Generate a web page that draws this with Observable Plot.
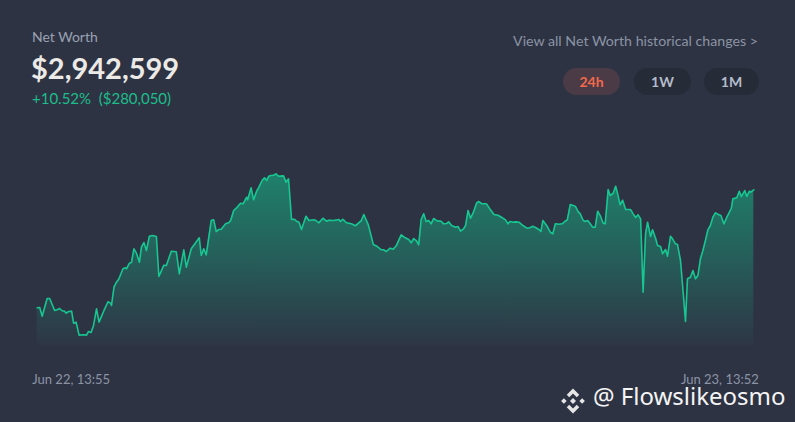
<!DOCTYPE html>
<html><head><meta charset="utf-8">
<script src="https://cdn.jsdelivr.net/npm/d3@7"></script>
<script src="https://cdn.jsdelivr.net/npm/@observablehq/plot@0.6"></script>
<style>
html,body{margin:0;padding:0;background:#2e3344;}
#wrap{position:relative;width:795px;height:422px;overflow:hidden;font-family:Lato,"Noto Sans",sans-serif;background:#2e3344;}
#chart{position:absolute;left:0;top:0;}
.abs{position:absolute;line-height:1;white-space:nowrap;}
.pill{position:absolute;top:68px;height:27px;border-radius:14px;display:flex;align-items:center;justify-content:center;font-size:14px;font-weight:700;}
</style></head>
<body>
<div id="wrap">
  <div id="chart"></div>
  <div class="abs" id="label" style="left:32px;top:30px;font-size:14px;color:#9aa2b2;"></div>
  <div class="abs" id="total" style="left:31px;top:53px;font-size:29px;font-weight:700;color:#eceae6;"></div>
  <div class="abs" id="change" style="left:32px;top:91px;font-size:15px;color:#1dbd8a;"></div>
  <div class="abs" id="link" style="right:37px;top:34px;font-size:14.2px;color:#8b93a3;"></div>
  <div id="pills"></div>
  <div class="abs" style="left:558px;top:386px;">
    <svg width="30" height="30" viewBox="0 0 24 24">
      <g fill="#e6e6e6">
        <path d="M12 2 L17 7 L15 9 L12 6 L9 9 L7 7 Z"/>
        <path d="M12 22 L7 17 L9 15 L12 18 L15 15 L17 17 Z"/>
        <path d="M2.5 12 L4.7 9.8 L6.9 12 L4.7 14.2 Z"/>
        <path d="M21.5 12 L19.3 9.8 L17.1 12 L19.3 14.2 Z"/>
        <path d="M12 9.6 L14.4 12 L12 14.4 L9.6 12 Z"/>
      </g>
    </svg>
  </div>
  <div class="abs" id="wm" style="left:593px;top:384px;font-size:24px;color:#f4f4f4;font-family:'Noto Sans',sans-serif;"></div>
</div>
<script>
// Net worth history (thousands of USD), minutes after Jun 22, 13:55
const minutesAfterStart = [
  0,5,10,20,25,35,40,45,50,55,
  58,63,69,73,78,84,93,99,103,108,
  113,119,124,134,142,147,149,154,159,164,
  172,177,179,185,189,194,199,205,209,214,
  219,225,231,239,244,254,259,269,279,285,
  294,299,309,325,329,334,339,349,354,359,
  364,369,378,384,388,394,400,408,413,420,
  422,429,434,440,444,451,456,460,464,468,
  474,479,484,494,499,504,510,516,520,525,
  530,539,545,555,559,565,573,580,585,595,
  605,608,613,620,630,638,650,655,664,674,
  682,690,695,700,708,714,720,730,738,745,
  750,755,760,765,770,775,780,785,790,795,
  802,810,815,821,825,831,839,844,849,855,
  859,864,869,874,881,885,892,901,909,916,
  924,931,939,944,948,954,959,966,974,982,
  988,994,999,1006,1010,1014,1023,1029,1034,1039,
  1046,1053,1058,1063,1069,1076,1079,1085,1089,1095,
  1099,1104,1109,1114,1119,1124,1129,1135,1139,1145,
  1149,1155,1160,1164,1169,1174,1180,1190,1195,1200,
  1205,1210,1215,1220,1224,1230,1234,1240,1244,1250,
  1254,1260,1264,1270,1274,1280,1284,1290,1295,1300,
  1304,1310,1315,1320,1325,1330,1335,1340,1345,1350,
  1355,1360,1367,1371,1377,1383,1388,1392,1395,1403,
  1408,1412,1419,1423,1428,1431,1437
];
const netWorthK = [
  2662.549,2663.3,2642.6,2684.6,2684.6,2656.2,2657.8,2660.9,2655.5,2654.5,
  2649.8,2653.8,2654.5,2626.0,2628.4,2597.6,2598.5,2597.6,2606.3,2604.0,
  2620.6,2660.2,2628.4,2656.2,2676.8,2673.5,2668.0,2711.5,2723.3,2731.4,
  2755.1,2757.5,2755.1,2768.4,2770.1,2802.6,2792.1,2770.8,2806.4,2817.5,
  2798.5,2832.5,2834.1,2831.8,2736.8,2763.7,2763.0,2796.9,2795.5,2743.3,
  2800.2,2758.9,2802.6,2828.7,2786.7,2802.6,2788.3,2869.7,2871.4,2843.6,
  2848.4,2849.1,2861.9,2864.3,2869.7,2893.5,2899.9,2910.8,2909.4,2925.0,
  2918.9,2947.3,2918.9,2939.3,2947.3,2964.7,2971.1,2964.7,2974.2,2976.5,
  2977.2,2980.6,2974.9,2975.8,2960.6,2968.7,2872.1,2872.8,2868.1,2865.7,
  2848.4,2879.9,2869.7,2871.4,2869.7,2864.3,2875.2,2868.1,2870.5,2869.7,
  2872.1,2867.4,2872.8,2864.3,2861.9,2857.2,2869.7,2884.0,2859.5,2812.8,
  2808.0,2800.2,2800.2,2796.2,2804.0,2801.6,2809.7,2835.8,2828.7,2824.7,
  2816.8,2827.0,2822.3,2812.1,2872.1,2885.6,2867.4,2869.7,2861.9,2874.5,
  2869.0,2868.1,2861.9,2862.6,2866.7,2857.9,2853.8,2855.5,2844.4,2850.0,
  2857.9,2893.5,2875.2,2887.1,2910.8,2914.8,2909.4,2909.4,2895.1,2884.0,
  2882.3,2877.6,2871.4,2861.9,2867.4,2865.7,2866.6,2865.7,2857.9,2851.5,
  2852.4,2856.2,2853.1,2848.4,2843.6,2869.7,2855.5,2842.0,2838.2,2861.9,
  2861.0,2861.9,2867.4,2871.4,2907.7,2904.6,2903.7,2890.4,2885.6,2869.7,
  2867.4,2869.7,2861.9,2853.8,2853.8,2891.8,2881.6,2863.3,2861.9,2943.3,
  2929.1,2934.5,2951.1,2933.1,2907.0,2917.9,2895.8,2895.8,2885.6,2876.9,
  2883.3,2873.8,2699.6,2838.2,2865.7,2831.8,2847.7,2827.7,2810.4,2808.0,
  2790.7,2800.9,2785.0,2832.5,2826.3,2814.4,2812.8,2774.8,2703.6,2630.1,
  2731.4,2735.2,2751.1,2731.4,2739.2,2778.8,2798.5,2822.3,2847.7,2857.9,
  2877.6,2888.0,2883.3,2881.6,2861.9,2877.6,2889.4,2898.9,2921.2,2923.6,
  2939.3,2926.7,2940.9,2926.7,2939.3,2936.9,2942.599
];
const startTime = Date.UTC(2023, 5, 22, 13, 55);
const headerLabel = "Net Worth";
const totalText = "$2,942,599";
const changeText = "+10.52%\u00a0 ($280,050)";
const linkText = "View all Net Worth historical changes >";
const rangeButtons = ["24h", "1W", "1M"];
const activeButton = "24h";
const watermark = "@ Flowslikeosmo";

document.getElementById("label").textContent = headerLabel;
document.getElementById("total").textContent = totalText;
document.getElementById("change").textContent = changeText;
document.getElementById("link").textContent = linkText;
document.getElementById("wm").textContent = watermark;
const pillLeft = [563, 634, 704], pillW = [57, 57, 55];
const pills = document.getElementById("pills");
rangeButtons.forEach((b, i) => {
  const el = document.createElement("div");
  el.className = "pill";
  el.textContent = b;
  el.style.left = pillLeft[i] + "px";
  el.style.width = pillW[i] + "px";
  el.style.background = b === activeButton ? "#4a3b46" : "#262b38";
  el.style.color = b === activeButton ? "#f2694c" : "#b4bccb";
  pills.appendChild(el);
});

const data = minutesAfterStart.map((m, i) => ({t: new Date(startTime + m * 60000), v: netWorthK[i] * 1000}));
const yMin = 2573000, yMax = 3036000;
const fmt = d3.utcFormat("%b %d, %H:%M");
const gradientDefs = () => {
  const defs = document.createElementNS("http://www.w3.org/2000/svg", "defs");
  defs.innerHTML = '<linearGradient id="nwGrad" x1="0" y1="0" x2="0" y2="1">' +
    '<stop offset="0" stop-color="#12c08a" stop-opacity="0.55"/>' +
    '<stop offset="0.5" stop-color="#12c08a" stop-opacity="0.3"/>' +
    '<stop offset="1" stop-color="#12c08a" stop-opacity="0.02"/></linearGradient>';
  return defs;
};
const first = data[0], last = data[data.length - 1];
const chart = Plot.plot({
  width: 795, height: 422,
  marginLeft: 36.7, marginRight: 41.7, marginTop: 150, marginBottom: 77,
  style: {background: "transparent", fontFamily: "Lato, sans-serif", overflow: "visible"},
  x: {type: "utc", domain: [first.t, last.t], axis: null},
  y: {domain: [yMin, yMax], axis: null},
  marks: [
    gradientDefs,
    Plot.areaY(data, {x: "t", y1: yMin, y2: "v", fill: "url(#nwGrad)"}),
    Plot.lineY(data, {x: "t", y: "v", stroke: "#17c690", strokeWidth: 1.6}),
    Plot.text([first], {x: "t", frameAnchor: "bottom", text: d => fmt(d.t), textAnchor: "start", dx: -5, dy: 38, fill: "#8b93a4", fontSize: 13}),
    Plot.text([last], {x: "t", frameAnchor: "bottom", text: d => fmt(d.t), textAnchor: "end", dx: 5, dy: 38, fill: "#8b93a4", fontSize: 13})
  ]
});
document.getElementById("chart").appendChild(chart);
</script>
</body></html>
